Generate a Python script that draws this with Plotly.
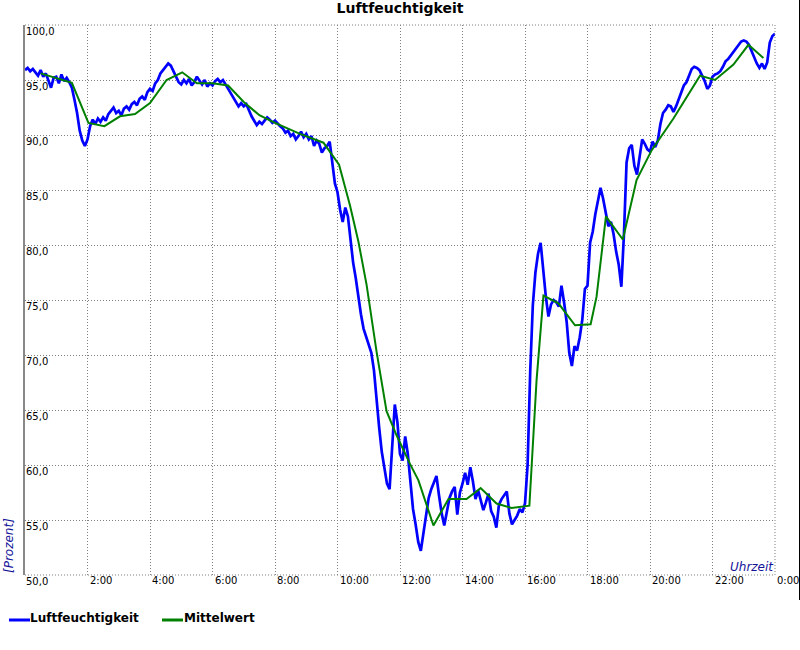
import plotly.graph_objects as go

# ---------------- data ----------------
SAMPLE_MINUTES = 5  # blue series sampled every 5 minutes from 0:00

humidity = [
    95.9, 96.1, 95.8, 96.0, 95.7, 95.4, 95.9, 95.3, 95.6, 95.0, 94.3, 95.2,   # 0h
    95.3, 94.7, 95.5, 94.9, 95.2, 94.8, 94.3, 93.2, 92.0, 90.4, 89.5, 89.0,   # 1h
    89.6, 90.8, 91.4, 91.0, 91.5, 91.2, 91.6, 91.3, 91.9, 92.2, 92.5, 92.0,   # 2h
    92.2, 91.8, 92.4, 92.6, 92.3, 92.8, 93.0, 92.7, 93.3, 93.5, 93.2, 93.9,   # 3h
    94.2, 94.0, 94.7, 95.0, 95.6, 95.9, 96.2, 96.5, 96.3, 95.8, 95.2, 94.8,   # 4h
    94.6, 95.0, 94.7, 95.1, 94.5, 94.8, 95.3, 94.9, 94.6, 95.0, 94.4, 94.7,   # 5h
    94.5, 94.9, 95.1, 94.8, 95.0, 94.6, 94.2, 93.8, 93.4, 93.0, 92.6, 92.9,   # 6h
    92.6, 92.8, 92.2, 91.7, 91.3, 90.9, 91.2, 91.0, 91.3, 91.6, 91.4, 91.1,   # 7h
    91.3, 91.0, 90.8, 90.6, 90.2, 90.4, 89.9, 90.1, 89.6, 89.9, 90.3, 89.8,   # 8h
    90.1, 89.6, 89.9, 89.0, 89.5, 89.2, 88.4, 88.8, 89.0, 89.4, 87.6, 85.6,   # 9h
    84.8, 83.2, 82.1, 83.4, 82.6, 80.5, 78.4, 77.0, 75.2, 73.7, 72.4, 71.6,   # 10h
    71.0, 70.2, 68.6, 65.8, 63.4, 61.2, 59.6, 58.3, 57.8, 62.2, 65.5, 63.9,   # 11h
    61.0, 60.4, 62.6, 61.0, 58.5, 56.0, 54.6, 53.0, 52.2, 53.8, 55.2, 57.0,   # 12h
    57.8, 58.5, 59.0, 57.2, 55.6, 54.5, 55.8, 57.0, 57.6, 58.0, 55.5, 57.5,   # 13h
    58.3, 59.3, 58.2, 59.8, 58.5, 56.9, 57.7, 56.8, 55.9, 56.6, 57.4, 55.8,   # 14h
    55.3, 54.3, 56.4, 56.9, 57.2, 57.6, 55.6, 54.6, 55.0, 55.4, 56.0, 55.7,   # 15h
    56.5, 60.0, 68.5, 74.5, 77.5, 79.2, 80.2, 77.6, 75.3, 73.5, 74.6, 75.0,   # 16h
    74.8, 74.4, 76.3, 74.8, 73.0, 70.2, 69.0, 70.8, 70.4, 71.6, 73.2, 76.0,   # 17h
    76.3, 80.2, 81.2, 82.8, 84.0, 85.2, 84.2, 82.9, 81.7, 82.1, 81.0, 79.4,   # 18h
    78.2, 76.2, 81.0, 87.5, 88.8, 89.1, 87.2, 86.4, 88.2, 89.6, 89.2, 88.7,   # 19h
    88.5, 89.4, 88.9, 89.5, 91.0, 92.0, 92.3, 92.7, 92.6, 92.1, 92.6, 93.2,   # 20h
    93.8, 94.5, 94.8, 95.4, 96.0, 96.2, 96.1, 95.9, 95.4, 94.9, 94.2, 94.5,   # 21h
    95.3, 95.5, 95.6, 95.8, 96.2, 96.7, 96.9, 97.2, 97.5, 97.8, 98.1, 98.5,   # 22h
    98.6, 98.5, 98.2, 97.6, 97.0, 96.5, 96.1, 96.5, 96.0, 96.6, 98.4, 99.0,   # 23h
    99.2,
]
humidity_hours = [i * SAMPLE_MINUTES / 60 for i in range(len(humidity))]

mean_hours = [0.5, 1.5, 2.03, 2.54, 3.04, 3.52, 4.0, 4.53, 5.03, 5.5, 6.0, 6.5,
              7.0, 7.5, 8.0, 8.5, 8.8, 9.55, 10.05, 10.4, 10.67, 10.93, 11.25,
              11.57, 11.89, 12.32, 12.59, 13.07, 13.55, 14.13, 14.58, 15.09,
              15.57, 16.14, 16.37, 16.59, 17.07, 17.6, 18.1, 18.29, 18.59,
              19.13, 19.57, 20.05, 20.75, 21.6, 22.08, 22.67, 23.15, 23.63]
mean_values = [95.6, 94.75, 91.1, 90.8, 91.7, 91.9, 92.9, 95.0, 95.7, 94.7, 94.7, 94.5,
               93.0, 91.8, 91.1, 90.5, 90.1, 89.3, 87.3, 83.6, 80.3, 76.4, 70.3,
               64.9, 62.7, 60.1, 58.6, 54.5, 56.9, 56.9, 57.9, 56.5,
               56.1, 56.3, 67.7, 75.4, 74.7, 72.7, 72.8, 75.3, 82.6,
               80.5, 85.9, 88.6, 91.5, 95.4, 95.0, 96.4, 98.2, 97.0]

x_ticks = [2, 4, 6, 8, 10, 12, 14, 16, 18, 20, 22, 24]
x_tick_labels = ["2:00", "4:00", "6:00", "8:00", "10:00", "12:00", "14:00",
                 "16:00", "18:00", "20:00", "22:00", "0:00"]
y_ticks = [50, 55, 60, 65, 70, 75, 80, 85, 90, 95, 100]
y_tick_labels = ["50,0", "55,0", "60,0", "65,0", "70,0", "75,0", "80,0",
                 "85,0", "90,0", "95,0", "100,0"]

# ---------------- styling ----------------
FONT = "DejaVu Sans"
BLUE = "#0000FF"
GREEN = "#008000"
GRID = "#808080"
AXIS_TXT = "#14149a"
W, H = 800, 650
ML, MR, MT, MB = 25, 25, 25, 75
PW, PH = W - ML - MR, H - MT - MB


def px_x(p):
    return (p - ML) / PW


def px_y(p):
    return (H - MB - p) / PH


fig = go.Figure()
fig.add_trace(go.Scatter(x=humidity_hours, y=humidity, mode="lines",
                         line=dict(color=BLUE, width=2.7), name="Luftfeuchtigkeit",
                         showlegend=False, hoverinfo="skip"))
fig.add_trace(go.Scatter(x=mean_hours, y=mean_values, mode="lines",
                         line=dict(color=GREEN, width=2), name="Mittelwert",
                         showlegend=False, hoverinfo="skip"))

annotations = []
for v, t in zip(y_ticks, y_tick_labels):
    annotations.append(dict(x=0, xref="paper", y=v, yref="y", text=t, showarrow=False,
                            xanchor="left", yanchor="middle", xshift=-1, yshift=-6,
                            font=dict(family=FONT, size=10, color="black")))
for h, t in zip(x_ticks, x_tick_labels):
    annotations.append(dict(x=h, xref="x", y=0, yref="paper", text=t, showarrow=False,
                            xanchor="left", yanchor="middle", xshift=0, yshift=-5,
                            font=dict(family=FONT, size=10, color="black")))

annotations += [
    dict(x=px_x(9), xref="paper", y=px_y(546), yref="paper", text="[Prozent]",
         textangle=-90, showarrow=False, xanchor="center", yanchor="middle",
         font=dict(family=FONT, size=12, color=AXIS_TXT, style="italic")),
    dict(x=1, xref="paper", y=px_y(567), yref="paper", text="Uhrzeit",
         showarrow=False, xanchor="right", yanchor="middle", xshift=1,
         font=dict(family=FONT, size=12, color=AXIS_TXT, style="italic")),
    dict(x=px_x(30), xref="paper", y=px_y(618), yref="paper", text="<b>Luftfeuchtigkeit</b>",
         showarrow=False, xanchor="left", yanchor="middle", xshift=-2,
         font=dict(family=FONT, size=12, color="black")),
    dict(x=px_x(184), xref="paper", y=px_y(618), yref="paper", text="<b>Mittelwert</b>",
         showarrow=False, xanchor="left", yanchor="middle", xshift=-2,
         font=dict(family=FONT, size=12, color="black")),
]

dot = "1px,2px"
shapes = [
    # dotted frame (top, bottom, right)
    dict(type="line", xref="paper", yref="paper", x0=0, x1=1, y0=1, y1=1,
         line=dict(color=GRID, width=1, dash=dot)),
    dict(type="line", xref="paper", yref="paper", x0=0, x1=1, y0=0, y1=0,
         line=dict(color=GRID, width=1, dash=dot)),
    dict(type="line", xref="paper", yref="paper", x0=1, x1=1, y0=0, y1=1,
         line=dict(color=GRID, width=1, dash=dot)),
    # legend symbols
    dict(type="line", xref="paper", yref="paper", x0=px_x(9), x1=px_x(30),
         y0=px_y(620), y1=px_y(620), line=dict(color=BLUE, width=3)),
    dict(type="line", xref="paper", yref="paper", x0=px_x(162), x1=px_x(183),
         y0=px_y(620), y1=px_y(620), line=dict(color=GREEN, width=3)),
    # right border line of the image
    dict(type="line", xref="paper", yref="paper", x0=px_x(799.5), x1=px_x(799.5),
         y0=px_y(600), y1=px_y(0), line=dict(color="black", width=1)),
]

fig.update_layout(
    width=W, height=H,
    margin=dict(l=ML, r=MR, t=MT, b=MB, pad=0),
    paper_bgcolor="white", plot_bgcolor="white",
    title=dict(text="<b>Luftfeuchtigkeit</b>", x=0.5, xanchor="center",
               y=1 - 8 / H, yanchor="middle", yref="container",
               font=dict(family=FONT, size=14, color="black")),
    font=dict(family=FONT, size=10, color="black"),
    xaxis=dict(range=[0, 24], tickvals=list(range(0, 25, 2)), showticklabels=False,
               showgrid=True, gridcolor=GRID, gridwidth=1, griddash=dot,
               zeroline=False, showline=False, ticks="", fixedrange=True),
    yaxis=dict(range=[50, 100], tickvals=y_ticks, showticklabels=False,
               showgrid=True, gridcolor=GRID, gridwidth=1, griddash=dot,
               zeroline=False, showline=True, linecolor="#888888", linewidth=2,
               ticks="", fixedrange=True),
    annotations=annotations,
    shapes=shapes,
    showlegend=False,
    hovermode=False,
)

# remove the browser's default 8px body margin so the figure sits at (0, 0)
fig.write_html("out.html",
               config={"displayModeBar": False, "staticPlot": True},
               post_script="document.body.style.margin='0';document.body.style.overflow='hidden';")
